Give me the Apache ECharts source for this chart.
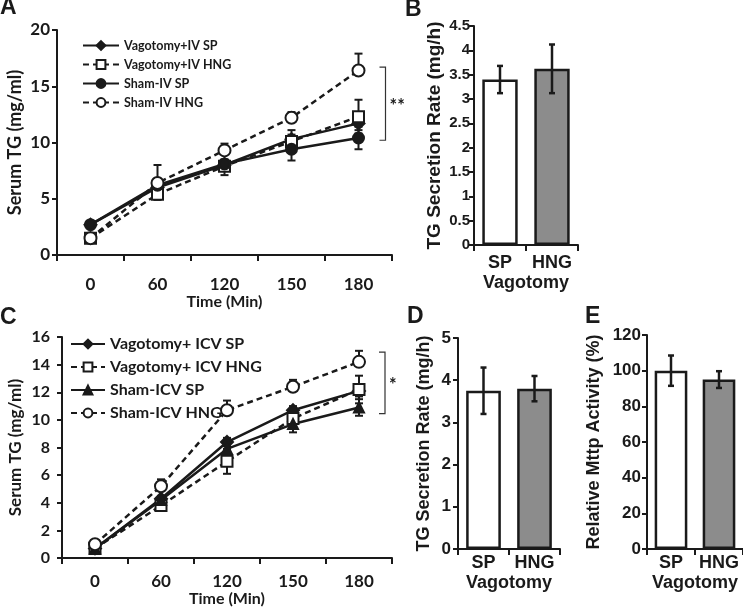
<!DOCTYPE html>
<html>
<head>
<meta charset="utf-8">
<script src="https://cdn.jsdelivr.net/npm/echarts@6/dist/echarts.min.js"></script>
<style>
html,body{margin:0;padding:0;background:#fff;}
#chart{width:743px;height:608px;}
</style>
</head>
<body>
<div id="chart"></div>
<script>
// ---------- Data ----------
const timeCats = ['0', '60', '120', '150', '180'];

// Panel A (IV)
const aNames = ['Vagotomy+IV SP', 'Vagotomy+IV HNG', 'Sham-IV SP', 'Sham-IV HNG'];
const aVagSP = [2.7, 6.0, 8.0, 10.3, 11.7];
const aVagSPErr = [0.3, 0.6, 0.5, 0.8, 0.6];
const aVagHNG = [1.5, 5.4, 7.9, 10.1, 12.3];
const aVagHNGErr = [0.2, 0.5, 0.4, 0.6, 1.5];
const aShamSP = [2.7, 6.2, 8.1, 9.4, 10.4];
const aShamSPErr = [0.3, 0.6, 1.0, 1.0, 1.0];
const aShamHNG = [1.5, 6.4, 9.3, 12.2, 16.4];
const aShamHNGErr = [0.2, 1.6, 0.6, 0.5, 1.5];
const aBracket = [16.7, 10.2];

// Panel C (ICV)
const cNames = ['Vagotomy+ ICV SP', 'Vagotomy+ ICV HNG', 'Sham-ICV SP', 'Sham-ICV HNG'];
const cVagSP = [0.7, 4.3, 8.4, 10.7, 12.1];
const cVagSPErr = [0.1, 0.2, 0.3, 0.3, 0.4];
const cVagHNG = [0.7, 3.8, 7.0, 10.1, 12.2];
const cVagHNGErr = [0.1, 0.2, 0.9, 0.5, 1.0];
const cShamSP = [0.7, 4.2, 7.9, 9.7, 10.9];
const cShamSPErr = [0.1, 0.2, 0.4, 0.6, 0.6];
const cShamHNG = [1.0, 5.2, 10.7, 12.4, 14.2];
const cShamHNGErr = [0.1, 0.5, 0.7, 0.5, 0.8];
const cBracket = [14.9, 10.45];

// Bar panels
const barCats = ['SP', 'HNG'];
const bValues = [3.4, 3.62];
const bErr = [0.28, 0.5];
const dValues = [3.75, 3.8];
const dErr = [0.55, 0.3];
const eValues = [100, 95];
const eErr = [8.5, 4.7];

// ---------- Styles ----------
const INK = '#1a1a1a';
const calFont = "Lato, 'Open Sans', sans-serif";
const arFont = "'Liberation Sans', Arial, sans-serif";

function errRender(params, api) {
  const x = api.value(0), y = api.value(1), up = api.value(2), dn = api.value(3);
  const top = api.coord([x, y + up]);
  const bot = api.coord([x, y - dn]);
  const hw = api.value(4);
  const lw = api.value(5);
  const children = [{type: 'line', shape: {x1: top[0], y1: top[1], x2: bot[0], y2: bot[1]}, style: {stroke: INK, lineWidth: lw}}];
  if (up > 0) children.push({type: 'line', shape: {x1: top[0] - hw, y1: top[1], x2: top[0] + hw, y2: top[1]}, style: {stroke: INK, lineWidth: lw}});
  if (dn > 0) children.push({type: 'line', shape: {x1: bot[0] - hw, y1: bot[1], x2: bot[0] + hw, y2: bot[1]}, style: {stroke: INK, lineWidth: lw}});
  return {type: 'group', children: children};
}

function errSeries(idx, vals, up, dn, hw, lw, z) {
  return {
    type: 'custom', xAxisIndex: idx, yAxisIndex: idx, z: z || 1, silent: true,
    renderItem: errRender,
    data: vals.map((v, i) => [i, v, up ? up[i] : 0, dn ? dn[i] : 0, hw, lw])
  };
}

function lineSeries(idx, name, vals, symbol, filled, dashed, size) {
  return {
    type: 'line', name: name, xAxisIndex: idx, yAxisIndex: idx, data: vals, z: 3,
    symbol: symbol, symbolSize: size, showAllSymbol: true,
    lineStyle: {color: INK, width: 2.5, type: dashed ? [6, 4] : 'solid'},
    itemStyle: {color: filled ? INK : '#fff', borderColor: INK, borderWidth: 2}
  };
}

function bracketSeries(idx, vals, label, offset) {
  return {
    type: 'custom', xAxisIndex: idx, yAxisIndex: idx, silent: true, z: 5,
    renderItem: function (params, api) {
      const p1 = api.coord([4, api.value(0)]);
      const p2 = api.coord([4, api.value(1)]);
      const x = p1[0] + offset;
      return {type: 'group', children: [
        {type: 'polyline', shape: {points: [[x - 6, p1[1]], [x, p1[1]], [x, p2[1]], [x - 6, p2[1]]]}, style: {stroke: '#333', lineWidth: 1.2, fill: null}},
        {type: 'text', x: x + 4, y: (p1[1] + p2[1]) / 2 + 2, style: {text: label, fill: INK, font: 'bold 18px ' + calFont, verticalAlign: 'middle', align: 'left'}}
      ]};
    },
    data: [vals]
  };
}

function catAxis(idx, data, font, size, margin, name, nameGap, nameSize) {
  return {
    type: 'category', gridIndex: idx, data: data,
    boundaryGap: true,
    axisLine: {lineStyle: {color: INK, width: 2}},
    axisTick: {show: true, alignWithLabel: false, length: 6, lineStyle: {color: INK, width: 2}},
    axisLabel: {interval: 0, color: INK, fontFamily: font, fontWeight: 'bold', fontSize: size, margin: margin},
    name: name, nameLocation: 'middle', nameGap: nameGap,
    nameTextStyle: {color: INK, fontFamily: font, fontWeight: 'bold', fontSize: nameSize}
  };
}

function valAxis(idx, min, max, interval, font, size, margin, name, nameGap, nameSize) {
  return {
    type: 'value', gridIndex: idx, min: min, max: max, interval: interval,
    splitLine: {show: false},
    axisLine: {show: true, lineStyle: {color: INK, width: 2}},
    axisTick: {show: true, length: 5, lineStyle: {color: INK, width: 2}},
    axisLabel: {color: INK, fontFamily: font, fontWeight: 'bold', fontSize: size, margin: margin},
    name: name, nameLocation: 'middle', nameGap: nameGap,
    nameTextStyle: {color: INK, fontFamily: font, fontWeight: 'bold', fontSize: nameSize}
  };
}

function barSeries(idx, vals) {
  return {
    type: 'bar', xAxisIndex: idx, yAxisIndex: idx, barWidth: '68%', z: 2,
    data: vals.map((v, i) => ({value: v, itemStyle: {color: i === 0 ? '#ffffff' : '#8c8c8c'}})),
    itemStyle: {borderColor: INK, borderWidth: 2.5}
  };
}

const chart = echarts.init(document.getElementById('chart'), null, {renderer: 'canvas'});

const titleStyle = {fontFamily: arFont, fontWeight: 'bold', fontSize: 23, color: INK};
const option = {
  animation: false,
  backgroundColor: '#fff',
  title: [
    {text: 'A', left: 0, top: -4, padding: 0, textStyle: titleStyle},
    {text: 'B', left: 405, top: -2, padding: 0, textStyle: titleStyle},
    {text: 'C', left: 0, top: 306, padding: 0, textStyle: titleStyle},
    {text: 'D', left: 407, top: 305, padding: 0, textStyle: titleStyle},
    {text: 'E', left: 585, top: 305, padding: 0, textStyle: titleStyle}
  ],
  legend: [
    {data: aNames, orient: 'vertical', left: 82, top: 39, padding: 0, itemWidth: 36, itemHeight: 11, itemGap: 6,
     textStyle: {fontFamily: calFont, fontWeight: 'bold', fontSize: 12.5, color: INK}},
    {data: cNames, orient: 'vertical', left: 70, top: 336, padding: 0, itemWidth: 34, itemHeight: 11, itemGap: 7,
     textStyle: {fontFamily: calFont, fontWeight: 'bold', fontSize: 16, color: INK}}
  ],
  grid: [
    {left: 57, top: 30, width: 335, height: 225},
    {left: 474, top: 26, width: 104, height: 219},
    {left: 62, top: 337, width: 330, height: 225},
    {left: 458, top: 338, width: 102, height: 211},
    {left: 647, top: 335, width: 96, height: 214}
  ],
  xAxis: [
    catAxis(0, timeCats, calFont, 17, 21, 'Time (Min)', 25, 16),
    catAxis(1, barCats, arFont, 18, 9, 'Vagotomy', 29, 18),
    catAxis(2, timeCats, calFont, 17, 15, 'Time (Min)', 23, 16),
    catAxis(3, barCats, arFont, 18, 5, 'Vagotomy', 25, 18),
    catAxis(4, barCats, arFont, 18, 5, 'Vagotomy', 25, 18)
  ],
  yAxis: [
    valAxis(0, 0, 20, 5, calFont, 17, 7, 'Serum TG (mg/ml)', 33, 18),
    valAxis(1, 0, 4.5, 0.5, arFont, 15, 4, 'TG Secretion Rate (mg/h)', 30, 19),
    valAxis(2, 0, 16, 2, calFont, 16, 12, 'Serum TG (mg/ml)', 38, 17),
    valAxis(3, 0, 5, 1, arFont, 17, 7, 'TG Secretion Rate (mg/h)', 25, 18),
    valAxis(4, 0, 120, 20, arFont, 17, 6, 'Relative Mttp Activity (%)', 44, 18)
  ],
  series: [
    // Panel A error bars
    errSeries(0, aVagSP, aVagSPErr, aVagSPErr, 4, 2),
    errSeries(0, aVagHNG, aVagHNGErr, aVagHNGErr, 4, 2),
    errSeries(0, aShamSP, aShamSPErr, aShamSPErr, 4, 2),
    errSeries(0, aShamHNG, aShamHNGErr, null, 4, 2),
    lineSeries(0, aNames[0], aVagSP, 'diamond', true, false, 12),
    lineSeries(0, aNames[1], aVagHNG, 'rect', false, true, 11),
    lineSeries(0, aNames[2], aShamSP, 'circle', true, false, 11),
    lineSeries(0, aNames[3], aShamHNG, 'circle', false, true, 12),
    bracketSeries(0, aBracket, '**', 27),
    // Panel B
    barSeries(1, bValues),
    errSeries(1, bValues, bErr, bErr, 3, 2.5, 4),
    // Panel C
    errSeries(2, cVagSP, cVagSPErr, cVagSPErr, 4, 2),
    errSeries(2, cVagHNG, cVagHNGErr, cVagHNGErr, 4, 2),
    errSeries(2, cShamSP, cShamSPErr, cShamSPErr, 4, 2),
    errSeries(2, cShamHNG, cShamHNGErr, null, 4, 2),
    lineSeries(2, cNames[0], cVagSP, 'diamond', true, false, 12),
    lineSeries(2, cNames[1], cVagHNG, 'rect', false, true, 11),
    lineSeries(2, cNames[2], cShamSP, 'triangle', true, false, 10),
    lineSeries(2, cNames[3], cShamHNG, 'circle', false, true, 12),
    bracketSeries(2, cBracket, '*', 26),
    // Panel D
    barSeries(3, dValues),
    errSeries(3, dValues, dErr, dErr, 3, 2.5, 4),
    // Panel E
    barSeries(4, eValues),
    errSeries(4, eValues, eErr, eErr, 3, 2.5, 4)
  ]
};
chart.setOption(option);
</script>
</body>
</html>
